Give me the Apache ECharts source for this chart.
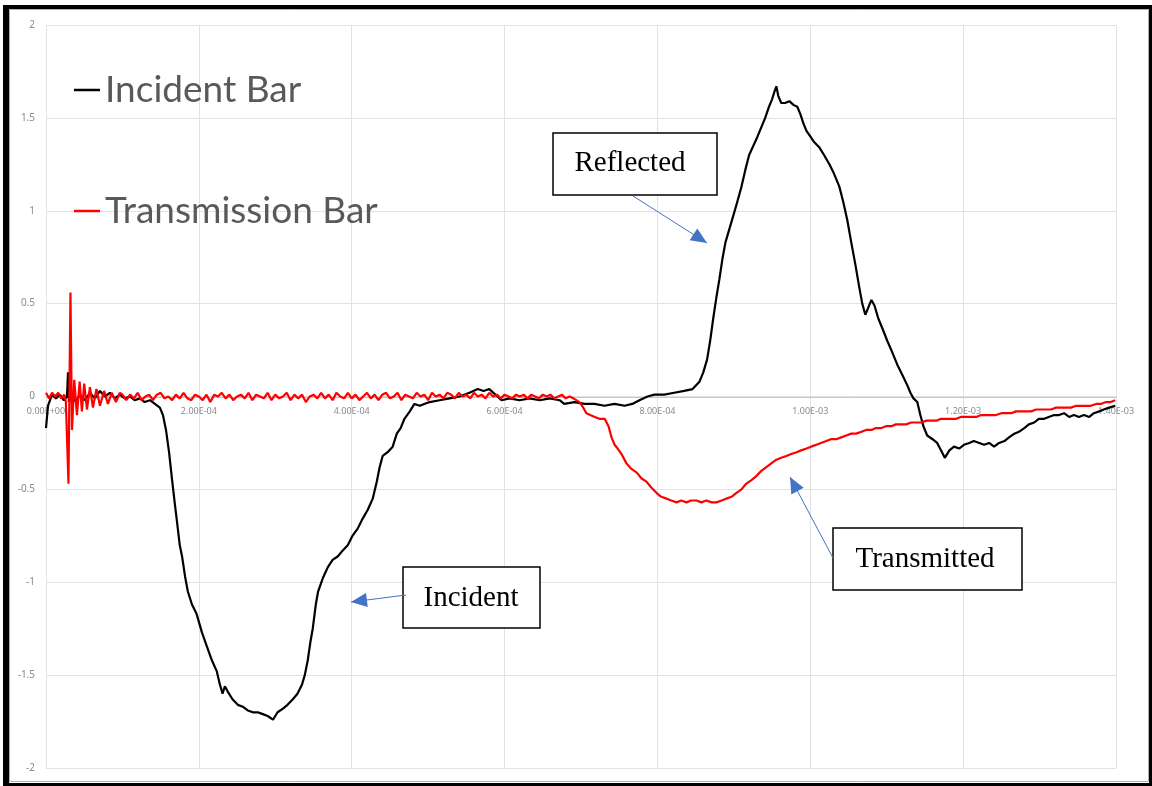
<!DOCTYPE html>
<html>
<head>
<meta charset="utf-8">
<script src="https://cdn.jsdelivr.net/npm/echarts@6/dist/echarts.min.js"></script>
<style>
  html, body { margin: 0; padding: 0; background: #fff; }
  #chart { width: 1152px; height: 786px; }
</style>
</head>
<body>
<div id="chart"></div>
<script>
// ---- Data (time in microseconds, signal in volts) ----
var seriesNames = ['Incident Bar', 'Transmission Bar'];

var incidentTimeUs = [0, 2.6, 7.8, 13, 18, 23.5, 27.5, 28.8, 30, 34, 39, 44, 51, 57.5, 64, 70.6, 77, 83.7, 90, 96.7,
  103, 110, 116, 123, 129, 136, 142.5, 149, 153, 157, 161, 165, 168.6, 171, 175, 178, 182, 185.6, 191, 197,
  204, 210, 217, 223.5, 227.5, 231, 234, 238, 244, 251, 257.5, 264, 270.6, 277, 283.7, 290, 297, 303, 310, 316,
  323, 329, 335, 338.6, 342.5, 346, 349, 353, 356, 362, 368.6, 375, 382, 388, 395, 401, 408, 414, 421, 427.5,
  432.7, 436.6, 440.5, 447, 453.6, 459, 464, 469, 476, 482, 489, 495, 502, 515, 528, 541, 554, 565, 572.5, 580,
  588, 596, 606.5, 619.6, 632.7, 646, 659, 672, 678, 691.5, 704.6, 717.6, 730.7, 743.8, 757, 767, 776.5, 787, 796, 809,
  822, 835, 846, 855, 860, 865, 869, 873, 877, 881, 885, 889, 894, 899, 904.6, 910, 915, 920, 925.5, 931,
  936, 941, 946, 950, 953, 955.6, 958, 962, 967, 972.5, 978, 983, 987, 991, 995, 1000, 1005, 1012, 1018, 1025,
  1031, 1038, 1043, 1048.4, 1053.6, 1059, 1064, 1068, 1072, 1076, 1080, 1084, 1089, 1094, 1100.7, 1107, 1114, 1120, 1127, 1131,
  1135, 1140, 1144, 1148, 1153, 1160, 1166, 1171, 1176, 1182, 1188, 1195, 1201, 1208, 1214, 1221, 1227.5, 1234, 1240.5, 1247,
  1254, 1260, 1267, 1273, 1280, 1286, 1293, 1299, 1306, 1312, 1319, 1325.5, 1332, 1338.6, 1345, 1351.6, 1358, 1365, 1371, 1378,
  1384, 1391, 1399];
var incidentVolts = [-0.17, -0.05, 0.01, -0.01, 0.01, -0.02, 0.00, 0.13, -0.03, 0.02, -0.03, 0.01, -0.02, 0.02, -0.01, 0.03, 0.00, 0.02, -0.01, 0.01,
  -0.01, 0.00, -0.02, -0.01, -0.03, -0.02, -0.04, -0.06, -0.10, -0.18, -0.30, -0.45, -0.58, -0.66, -0.80, -0.86, -0.97, -1.05, -1.12, -1.17,
  -1.27, -1.34, -1.42, -1.48, -1.55, -1.60, -1.56, -1.59, -1.63, -1.66, -1.67, -1.69, -1.70, -1.70, -1.71, -1.72, -1.74, -1.70, -1.68, -1.66,
  -1.63, -1.60, -1.55, -1.50, -1.42, -1.32, -1.25, -1.12, -1.05, -0.98, -0.92, -0.88, -0.86, -0.83, -0.80, -0.75, -0.71, -0.66, -0.61, -0.55,
  -0.46, -0.38, -0.32, -0.30, -0.27, -0.20, -0.17, -0.12, -0.08, -0.04, -0.05, -0.04, -0.03, -0.02, -0.01, 0.00, 0.02, 0.04, 0.03, 0.04,
  0.01, -0.02, -0.01, -0.02, -0.01, -0.02, -0.01, -0.02, -0.04, -0.03, -0.04, -0.04, -0.05, -0.04, -0.05, -0.04, -0.02, 0.00, 0.01, 0.01,
  0.02, 0.03, 0.04, 0.08, 0.13, 0.20, 0.30, 0.42, 0.53, 0.63, 0.74, 0.83, 0.90, 0.97, 1.05, 1.13, 1.22, 1.30, 1.35, 1.40,
  1.45, 1.50, 1.56, 1.60, 1.64, 1.67, 1.62, 1.58, 1.58, 1.59, 1.57, 1.56, 1.52, 1.47, 1.43, 1.40, 1.37, 1.34, 1.30, 1.25,
  1.20, 1.13, 1.05, 0.95, 0.83, 0.71, 0.59, 0.50, 0.44, 0.48, 0.52, 0.49, 0.42, 0.37, 0.30, 0.24, 0.17, 0.12, 0.06, 0.02,
  -0.01, -0.03, -0.10, -0.16, -0.21, -0.23, -0.25, -0.29, -0.33, -0.29, -0.27, -0.28, -0.26, -0.25, -0.24, -0.25, -0.26, -0.25, -0.27, -0.25,
  -0.24, -0.22, -0.20, -0.19, -0.17, -0.15, -0.14, -0.12, -0.12, -0.11, -0.10, -0.10, -0.09, -0.11, -0.10, -0.11, -0.10, -0.11, -0.09, -0.08,
  -0.07, -0.06, -0.05];

var transmissionTimeUs = [0, 4, 8, 12, 16, 20, 24, 26, 29.4, 32, 34, 37, 40.5, 44, 47, 50, 53.6, 57.5, 61.4, 66,
  70.6, 76, 81, 86, 91.5, 96.7,
  100, 105, 110, 115, 120, 125, 130, 135, 140, 145, 150, 155, 160, 165, 170, 175, 180, 185, 190, 195,
  200, 205, 210, 215, 220, 225, 230, 235, 240, 245, 250, 255, 260, 265, 270, 275, 280, 285, 290, 295,
  300, 305, 310, 315, 320, 325, 330, 335, 340, 345, 350, 355, 360, 365, 370, 375, 380, 385, 390, 395,
  400, 405, 410, 415, 420, 425, 430, 435, 440, 445, 450, 455, 460, 465, 470, 475, 480, 485, 490, 495,
  500, 505, 510, 515, 520, 525, 530, 535, 540, 545, 550, 555, 560, 565, 570, 575, 580, 585, 590, 595,
  600, 605, 610, 615, 620, 625, 630, 635, 640, 645, 650, 655, 660, 665, 670, 675, 680, 685, 690,
  698, 703, 707, 712, 718, 724, 731, 736, 740, 744, 748, 753, 759.5, 766, 773, 779, 786, 792, 799, 805,
  812, 818, 825, 831, 838, 844, 851, 857.5, 864, 871, 877, 884, 890, 897, 903, 910, 916, 923, 929, 936,
  942.5, 949, 955.6, 962, 968.6, 975, 982, 988, 995, 1001, 1008, 1014, 1021, 1027, 1034, 1040.5, 1047, 1053.6, 1060, 1067,
  1073, 1080, 1086, 1093, 1099, 1106, 1112, 1119, 1125.5, 1132, 1138.6, 1145, 1152, 1158, 1165, 1171, 1178, 1184, 1191, 1197,
  1204, 1210.5, 1217, 1223.5, 1230, 1236.6, 1243, 1250, 1256, 1263, 1269, 1276, 1282, 1289, 1295.5, 1302, 1308.5, 1315, 1321.6, 1328,
  1334.6, 1341, 1348, 1354, 1361, 1367, 1374, 1380, 1387, 1393, 1399];
var transmissionVolts = [0.02, -0.01, 0.02, 0.00, 0.02, -0.01, 0.01, -0.03, -0.47, 0.56, -0.18, 0.09, -0.10, 0.08, -0.08, 0.07, -0.07, 0.05, -0.06, 0.04,
  -0.05, 0.03, -0.04, 0.02, -0.03, 0.02,
  0.01, -0.02, 0.01, -0.01, 0.02, -0.02, 0.00, 0.01, -0.02, 0.01, 0.02, -0.01, 0.00, -0.02, 0.01, -0.01, 0.02, -0.01, -0.02, 0.01,
  0.00, -0.02, 0.01, -0.03, 0.01, 0.00, 0.02, -0.01, 0.01, -0.02, 0.00, 0.01, -0.01, 0.02, -0.02, 0.01, 0.00, -0.01, 0.02, -0.02,
  0.01, -0.01, 0.00, 0.02, -0.02, 0.01, -0.01, 0.01, -0.03, 0.00, 0.01, -0.01, 0.02, -0.01, 0.01, -0.02, 0.02, 0.00, -0.01, 0.02,
  -0.01, 0.01, -0.02, 0.00, 0.02, -0.01, 0.01, -0.02, 0.01, 0.02, -0.01, 0.00, 0.02, -0.02, 0.01, 0.00, -0.01, 0.02, 0.00, 0.01,
  -0.02, 0.02, 0.00, 0.01, -0.01, 0.02, 0.01, -0.01, 0.02, 0.00, 0.01, -0.01, 0.02, 0.00, 0.01, -0.01, 0.02, 0.00, 0.01, -0.01,
  0.01, 0.00, -0.01, 0.01, 0.00, 0.01, -0.01, 0.01, 0.00, -0.01, 0.01, 0.00, 0.01, -0.01, 0.00, 0.01, -0.01, 0.00, -0.01,
  -0.03, -0.06, -0.09, -0.10, -0.11, -0.12, -0.12, -0.16, -0.22, -0.26, -0.28, -0.31, -0.36, -0.39, -0.41, -0.44, -0.46, -0.49, -0.52, -0.54,
  -0.55, -0.56, -0.57, -0.56, -0.57, -0.56, -0.56, -0.57, -0.56, -0.57, -0.57, -0.56, -0.55, -0.54, -0.52, -0.50, -0.47, -0.45, -0.43, -0.40,
  -0.38, -0.36, -0.34, -0.33, -0.32, -0.31, -0.30, -0.29, -0.28, -0.27, -0.26, -0.25, -0.24, -0.23, -0.23, -0.22, -0.21, -0.20, -0.20, -0.19,
  -0.18, -0.18, -0.17, -0.17, -0.16, -0.16, -0.15, -0.15, -0.15, -0.14, -0.14, -0.14, -0.13, -0.13, -0.13, -0.12, -0.12, -0.12, -0.12, -0.11,
  -0.11, -0.11, -0.11, -0.10, -0.10, -0.10, -0.10, -0.09, -0.09, -0.09, -0.08, -0.08, -0.08, -0.08, -0.07, -0.07, -0.07, -0.07, -0.06, -0.06,
  -0.06, -0.06, -0.05, -0.05, -0.05, -0.05, -0.04, -0.04, -0.03, -0.03, -0.02];

var xTicks = { min: 0, max: 0.0014, interval: 0.0002 };
var yTicks = { min: -2, max: 2, interval: 0.5 };

var annotationLabels = ['Reflected', 'Incident', 'Transmitted'];

// ---- Build ----
function pairs(tUs, v) {
  var out = [];
  for (var i = 0; i < tUs.length; i++) out.push([tUs[i] * 1e-6, v[i]]);
  return out;
}
function sciLabel(val) {
  var s = Number(val).toExponential(2).toUpperCase(); // e.g. 2.00E-4
  var parts = s.split('E');
  var exp = parseInt(parts[1], 10);
  var sign = exp < 0 ? '-' : '+';
  var a = Math.abs(exp);
  return parts[0] + 'E' + sign + (a < 10 ? '0' + a : '' + a);
}
function arrowHead(sx, sy, tx, ty, len, half) {
  var dx = tx - sx, dy = ty - sy, L = Math.sqrt(dx * dx + dy * dy);
  var ux = dx / L, uy = dy / L;
  var bx = tx - ux * len, by = ty - uy * len;
  return [[tx, ty], [bx - uy * half, by + ux * half], [bx + uy * half, by - ux * half]];
}
function callout(box, text, textPos, arrow) {
  var els = [];
  els.push({ type: 'rect', shape: box, style: { fill: '#fff', stroke: '#000', lineWidth: 1.5 }, z: 100 });
  els.push({ type: 'text', x: textPos[0], y: textPos[1], style: { text: text, fill: '#000', font: '29px "Liberation Serif", "Times New Roman", serif', textAlign: 'center', textVerticalAlign: 'middle' }, z: 101 });
  els.push({ type: 'line', shape: { x1: arrow[0], y1: arrow[1], x2: arrow[2], y2: arrow[3] }, style: { stroke: '#4472C4', lineWidth: 1 }, z: 100 });
  els.push({ type: 'polygon', shape: { points: arrowHead(arrow[0], arrow[1], arrow[2], arrow[3], 16, 7) }, style: { fill: '#4472C4' }, z: 100 });
  return els;
}

var graphics = [];
graphics = graphics.concat(callout({ x: 553, y: 133, width: 164, height: 62 }, annotationLabels[0], [630, 163], [633, 196, 707, 243]));
graphics = graphics.concat(callout({ x: 403, y: 567, width: 137, height: 61 }, annotationLabels[1], [471, 598], [406, 595, 351, 602]));
graphics = graphics.concat(callout({ x: 833, y: 528, width: 189, height: 62 }, annotationLabels[2], [925, 559], [833, 558, 790, 477]));
// frame
graphics.push({ type: 'rect', shape: { x: 9.5, y: 9.5, width: 1139, height: 772 }, style: { fill: 'none', stroke: '#b0b0b0', lineWidth: 1 }, z: 50, silent: true });
graphics.push({ type: 'rect', shape: { x: 3, y: 5, width: 6, height: 781 }, style: { fill: '#000' }, z: 51 });
graphics.push({ type: 'rect', shape: { x: 3, y: 5, width: 1149, height: 4 }, style: { fill: '#000' }, z: 51 });
graphics.push({ type: 'rect', shape: { x: 1149, y: 5, width: 3, height: 781 }, style: { fill: '#000' }, z: 51 });
graphics.push({ type: 'rect', shape: { x: 3, y: 783, width: 1149, height: 3 }, style: { fill: '#000' }, z: 51 });

var chart = echarts.init(document.getElementById('chart'), null, { renderer: 'canvas' });
chart.setOption({
  animation: false,
  backgroundColor: '#fff',
  grid: { left: 46, right: 36, top: 25, bottom: 18, containLabel: false },
  legend: {
    orient: 'vertical', left: 69, top: 66, itemGap: 83,
    icon: 'rect', itemWidth: 26, itemHeight: 2.5,
    textStyle: { fontFamily: 'Lato', fontSize: 37, lineHeight: 38, color: '#595959' },
    data: seriesNames
  },
  xAxis: {
    type: 'value', min: xTicks.min, max: xTicks.max, interval: xTicks.interval,
    position: 'bottom', offset: -371,
    axisLine: { show: true, onZero: false, lineStyle: { color: '#c6c6c6', width: 1 } },
    axisTick: { show: false },
    axisLabel: { formatter: sciLabel, fontSize: 9, color: '#8a8a8a', fontFamily: 'Noto Sans', margin: 10 },
    splitLine: { show: true, lineStyle: { color: '#e2e2e2', width: 1 } }
  },
  yAxis: {
    type: 'value', min: yTicks.min, max: yTicks.max, interval: yTicks.interval,
    axisLine: { show: false },
    axisTick: { show: false },
    axisLabel: { fontSize: 10, color: '#8a8a8a', fontFamily: 'Noto Sans', margin: 11 },
    splitLine: { show: true, lineStyle: { color: '#e2e2e2', width: 1 } }
  },
  series: [
    { name: seriesNames[0], type: 'line', data: pairs(incidentTimeUs, incidentVolts), showSymbol: false, symbol: 'none',
      lineStyle: { color: '#000', width: 2.2 }, itemStyle: { color: '#000' }, z: 2 },
    { name: seriesNames[1], type: 'line', data: pairs(transmissionTimeUs, transmissionVolts), showSymbol: false, symbol: 'none',
      lineStyle: { color: '#ff0000', width: 2.2 }, itemStyle: { color: '#ff0000' }, z: 3 }
  ],
  graphic: graphics
});
</script>
</body>
</html>
